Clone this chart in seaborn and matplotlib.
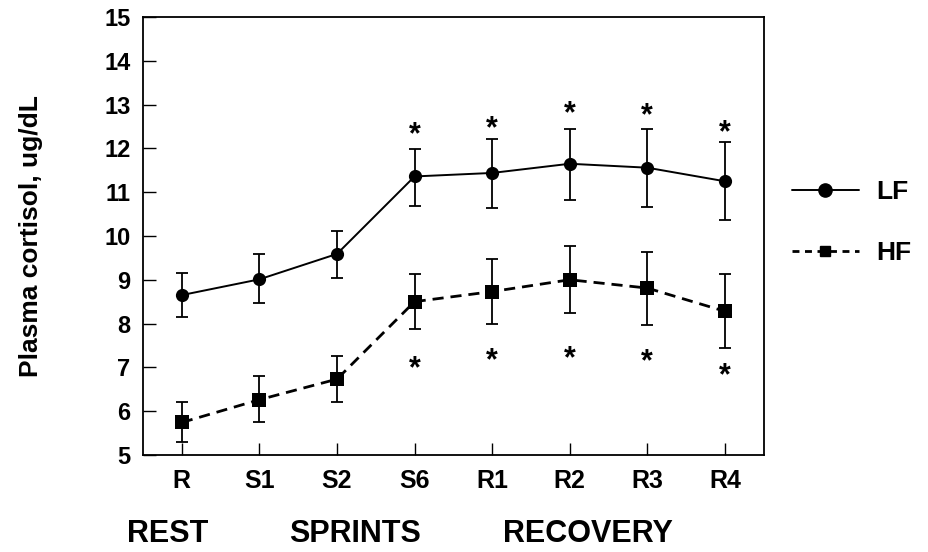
import pandas as pd
import numpy as np
import matplotlib
matplotlib.use('Agg')
import matplotlib.pyplot as plt
import seaborn as sns
from matplotlib.lines import Line2D

# values
stages = ["R", "S1", "S2", "S6", "R1", "R2", "R3", "R4"]
lf_mean = [8.65, 9.01, 9.59, 11.36, 11.44, 11.65, 11.56, 11.25]
lf_hi = [9.15, 9.58, 10.11, 11.99, 12.22, 12.45, 12.45, 12.15]
lf_lo = [8.16, 8.46, 9.05, 10.69, 10.65, 10.83, 10.66, 10.36]
hf_mean = [5.74, 6.26, 6.73, 8.50, 8.73, 9.00, 8.81, 8.28]
hf_hi = [6.21, 6.81, 7.26, 9.13, 9.47, 9.76, 9.64, 9.13]
hf_lo = [5.29, 5.75, 6.21, 7.88, 7.99, 8.24, 7.96, 7.45]
# significance asterisks (from S6 onward)
star_stages = ["S6", "R1", "R2", "R3", "R4"]
star_lf = [12.52, 12.66, 13.0, 12.96, 12.56]
star_hf = [7.16, 7.36, 7.40, 7.34, 7.02]
phases = ["REST", "SPRINTS", "RECOVERY"]

sns.set_theme(style="ticks", rc={"text.color": "black", "axes.labelcolor": "black",
                                 "xtick.color": "black", "ytick.color": "black",
                                 "axes.edgecolor": "black"})
plt.rcParams['font.family'] = ['Liberation Sans', 'DejaVu Sans']
plt.rcParams['font.weight'] = 'bold'

df = pd.DataFrame({
    "x": list(range(len(stages))) * 2,
    "cortisol": lf_mean + hf_mean,
    "group": ["LF"] * len(stages) + ["HF"] * len(stages),
})

fig = plt.figure(figsize=(9.29, 5.52), dpi=100)
ax = fig.add_axes([0.154, 0.176, 0.668, 0.793])

sns.lineplot(data=df, x="x", y="cortisol", hue="group", style="group",
             palette={"LF": "black", "HF": "black"},
             dashes={"LF": "", "HF": (4, 2.5)},
             markers={"LF": "o", "HF": "s"},
             markersize=9.5, markeredgewidth=0, ax=ax, legend=False)
for line, lw in zip(ax.lines, [1.4, 2.0]):
    line.set_linewidth(lw)

xs = np.arange(len(stages))
for mean, hi, lo in [(lf_mean, lf_hi, lf_lo), (hf_mean, hf_hi, hf_lo)]:
    mean = np.array(mean)
    err = [mean - np.array(lo), np.array(hi) - mean]
    ax.errorbar(xs, mean, yerr=err, fmt='none', ecolor='black',
                elinewidth=1.3, capsize=4.5, capthick=1.3)

# asterisk glyph sits high in the em box, so anchor on baseline and shift down
for s, y in list(zip(star_stages, star_lf)) + list(zip(star_stages, star_hf)):
    ax.annotate("*", xy=(stages.index(s), y), xytext=(0, -12.5),
                textcoords='offset points', ha='center', va='baseline',
                fontsize=22, fontweight='bold')

ax.set_xlim(-0.5, 7.5)
ax.set_ylim(5, 15)
ax.set_yticks(range(5, 16))
ax.set_xticks(xs)
ax.set_xticklabels(stages)
ax.tick_params(axis='y', direction='in', length=9, width=1, pad=9,
               labelsize=17)
ax.tick_params(axis='x', direction='in', length=9, width=1, pad=10,
               labelsize=18)
for lab in ax.get_xticklabels() + ax.get_yticklabels():
    lab.set_fontweight('bold')
for sp in ax.spines.values():
    sp.set_visible(True)
    sp.set_linewidth(1.3)

ax.set_xlabel("")
ax.set_ylabel("Plasma cortisol, ug/dL", fontsize=19, fontweight='bold')
ax.yaxis.set_label_coords(-0.162, 0.5)

handles = [Line2D([], [], color='black', lw=1.4, marker='o', markersize=9.5),
           Line2D([], [], color='black', lw=2.0, ls=(0, (2.5, 2.0)),
                  marker='s', markersize=7.5)]
ax.legend(handles, ["LF", "HF"], loc='center left',
          bbox_to_anchor=(1.045, 0.53), frameon=False,
          borderaxespad=0, borderpad=0,
          handlelength=2.54, labelspacing=1.4, handletextpad=0.68,
          prop={'weight': 'bold', 'size': 19})

for label, xc in zip(phases, [168, 355, 588]):
    fig.text(xc / 929, 0.006, label, ha='center', va='bottom',
             fontsize=22, fontweight='bold')

fig.savefig("out.png", dpi=100)
